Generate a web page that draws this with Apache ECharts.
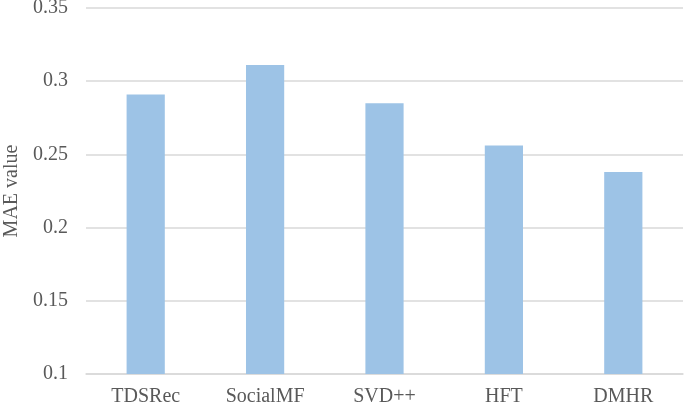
<!DOCTYPE html>
<html>
<head>
<meta charset="utf-8">
<script src="https://cdn.jsdelivr.net/npm/echarts@6/dist/echarts.min.js"></script>
<style>html,body{margin:0;padding:0;background:#fff}#c{width:685px;height:407px}</style>
</head>
<body>
<div id="c"></div>
<script>
const categories = ['TDSRec', 'SocialMF', 'SVD++', 'HFT', 'DMHR'];
const maeValues = [0.291, 0.311, 0.285, 0.256, 0.238];
const yTicks = [0.1, 0.15, 0.2, 0.25, 0.3, 0.35];

const chart = echarts.init(document.getElementById('c'), null, {renderer: 'canvas'});
const font = '"Liberation Serif", "Times New Roman", serif';
chart.setOption({
  animation: false,
  grid: {left: 86, right: 2, top: 8, bottom: 33, containLabel: false, outerBoundsMode: 'none'},
  xAxis: {
    type: 'category',
    data: categories,
    axisLine: {show: true, lineStyle: {color: '#d9d9d9', width: 1.5}},
    axisTick: {show: false},
    axisLabel: {color: '#595959', fontFamily: font, fontSize: 20, margin: 13}
  },
  yAxis: {
    type: 'value',
    min: yTicks[0],
    max: yTicks[yTicks.length - 1],
    interval: 0.05,
    name: 'MAE value',
    nameLocation: 'middle',
    nameRotate: 90,
    nameGap: 64,
    nameTextStyle: {color: '#595959', fontFamily: font, fontSize: 20},
    axisLine: {show: false},
    axisTick: {show: false},
    splitLine: {lineStyle: {color: '#d9d9d9', width: 1.5}},
    axisLabel: {
      color: '#595959', fontFamily: font, fontSize: 20, margin: 18,
      formatter: v => String(parseFloat(v.toFixed(2)))
    }
  },
  series: [{
    type: 'bar',
    data: maeValues,
    barWidth: '32%',
    itemStyle: {color: '#9dc3e6'}
  }]
});
</script>
</body>
</html>
